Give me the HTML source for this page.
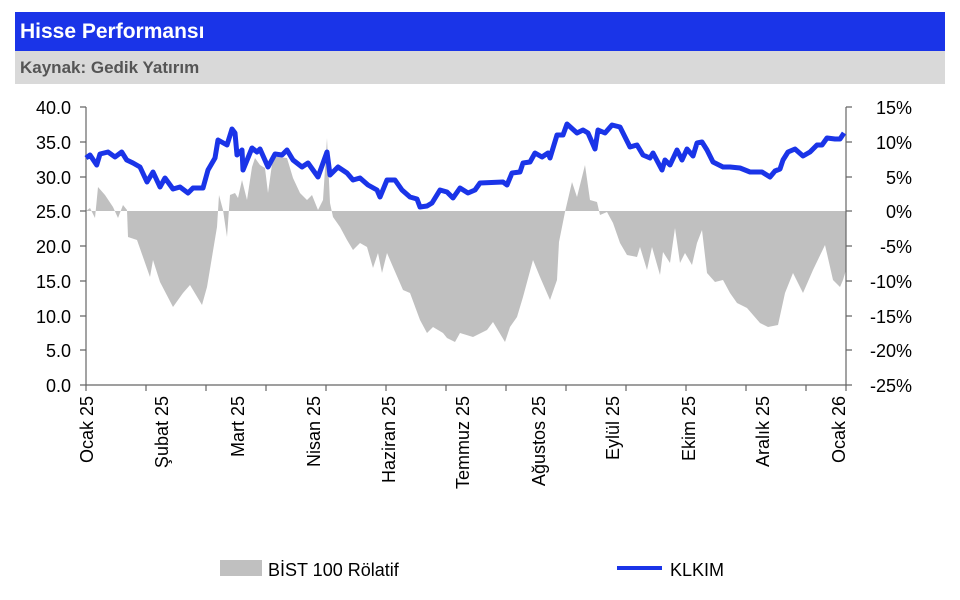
<!DOCTYPE html>
<html><head><meta charset="utf-8"><style>
body{margin:0;background:#fff;width:960px;height:600px;overflow:hidden;font-family:"Liberation Sans",sans-serif}
.t{position:absolute;left:15px;top:12px;width:930px;height:39px;background:#1a34e8;color:#fff;font-weight:bold;font-size:21px;line-height:40px;text-indent:5px}
.s{position:absolute;left:15px;top:51px;width:930px;height:33px;background:#d9d9d9;color:#555;font-weight:bold;font-size:17px;line-height:34px;text-indent:5px}
</style></head><body>
<div class="t">Hisse Performansı</div>
<div class="s">Kaynak: Gedik Yatırım</div>
<svg width="960" height="600" style="position:absolute;left:0;top:0" font-family="Liberation Sans, sans-serif" font-size="18">
<polygon fill="#c0c0c0" points="86,211 90,208 95,218 98,187 105,195 113,207 118,218 123,205 127,210 128,237 137,240 150,277 153,260 160,282 173,307 183,293 190,285 202,305 207,287 217,227 219,195 223,210 227,237 230,195 235,193 238,198 242,180 247,200 252,167 255,158 260,165 265,168 268,193 273,157 278,157 287,158 293,178 300,193 307,200 312,195 318,210 323,200 327,138 330,203 333,217 340,227 347,240 353,250 360,243 367,247 373,268 378,253 382,273 387,253 393,267 403,290 410,293 420,320 427,333 433,327 443,333 447,338 455,342 460,333 473,337 487,330 493,322 505,342 510,327 517,317 523,297 533,260 540,277 550,300 557,280 559,242 565,212 572,182 577,197 585,165 590,200 597,202 600,215 607,212 613,223 620,243 627,255 637,257 640,247 647,270 652,247 660,275 663,252 670,263 675,228 680,263 685,253 692,265 697,243 702,230 707,273 715,282 723,280 730,293 737,303 747,308 760,323 768,327 778,325 785,293 793,273 803,293 813,270 825,245 833,280 840,287 843,280 846,270 846,211"/>
<g stroke="#666" stroke-width="1.2" fill="none">
<line x1="86" y1="107" x2="86" y2="385"/><line x1="846" y1="107" x2="846" y2="385"/><line x1="86" y1="385" x2="846" y2="385"/>
<path d="M80,107h6M80,142h6M80,177h6M80,211h6M80,246h6M80,281h6M80,316h6M80,350h6M80,385h6"/>
<path d="M846,107h6M846,142h6M846,177h6M846,211h6M846,246h6M846,281h6M846,316h6M846,350h6M846,385h6"/>
<path d="M86,385v6M146,385v6M206,385v6M266,385v6M326,385v6M386,385v6M446,385v6M506,385v6M566,385v6M626,385v6M686,385v6M746,385v6M806,385v6M846,385v6"/>
</g>
<polyline fill="none" stroke="#1a34e8" stroke-width="5" stroke-linejoin="round" points="86,158 90,155 96.7,165 100,154 108,152 115,157 121.7,152 126.7,160 133,163 140,167 147,182 153,172 160,187 165,178 173,189 180,187 188,193 193,188 203,188 208,170 215,158 218,140 227,145 232,129 235,133 237,155 242,150 243,170 252,148 257,152 260,149 268,167 275,154 282,155 287,150 293,160 302,167 308,163 318,177 327,152 330,175 338,167 347,173 353,180 360,178 368,185 377,190 380,197 387,180 395,180 402,190 410,197 417,199 420,207 427,206 432,203 440,190 447,192 453,198 460,188 468,193 475,190 480,183 503,182 507,185 512,173 520,172 523,163 530,162 535,153 542,157 548,153 550,158 557,135 563,135 567,124 577,133 583,130 588,133 595,149 598,130 605,133 612,125 620,127 625,137 630,147 637,145 643,155 650,158 653,153 662,170 665,160 670,165 677,150 682,160 687,149 693,156 697,143 702,142 707,150 713,162 723,167 730,167 740,168 750,172 762,172 770,177 775,171 780,169 783,160 788,152 795,149 803,156 810,152 817,145 822,145 827,138 835,139 840,139 844,133"/>
<g text-anchor="end" fill="#000">
<text x="71" y="114">40.0</text><text x="71" y="149">35.0</text><text x="71" y="184">30.0</text><text x="71" y="218">25.0</text><text x="71" y="253">20.0</text><text x="71" y="288">15.0</text><text x="71" y="323">10.0</text><text x="71" y="357">5.0</text><text x="71" y="392">0.0</text>
</g>
<g text-anchor="end" fill="#000">
<text x="912" y="114">15%</text><text x="912" y="149">10%</text><text x="912" y="184">5%</text><text x="912" y="218">0%</text><text x="912" y="253">-5%</text><text x="912" y="288">-10%</text><text x="912" y="323">-15%</text><text x="912" y="357">-20%</text><text x="912" y="392">-25%</text>
</g>
<g text-anchor="end" fill="#000">
<text transform="translate(93,396) rotate(-90)">Ocak 25</text>
<text transform="translate(168,396) rotate(-90)">Şubat 25</text>
<text transform="translate(244,396) rotate(-90)">Mart 25</text>
<text transform="translate(320,396) rotate(-90)">Nisan 25</text>
<text transform="translate(395,396) rotate(-90)">Haziran 25</text>
<text transform="translate(469,396) rotate(-90)">Temmuz 25</text>
<text transform="translate(545,396) rotate(-90)">Ağustos 25</text>
<text transform="translate(619,396) rotate(-90)">Eylül 25</text>
<text transform="translate(695,396) rotate(-90)">Ekim 25</text>
<text transform="translate(769,396) rotate(-90)">Aralık 25</text>
<text transform="translate(845,396) rotate(-90)">Ocak 26</text>
</g>
<rect x="220" y="560" width="42" height="16" fill="#c0c0c0"/>
<text x="268" y="576" fill="#000">BİST 100 Rölatif</text>
<line x1="617" y1="568" x2="662" y2="568" stroke="#1a34e8" stroke-width="4"/>
<text x="670" y="576" fill="#000">KLKIM</text>
</svg>
</body></html>
